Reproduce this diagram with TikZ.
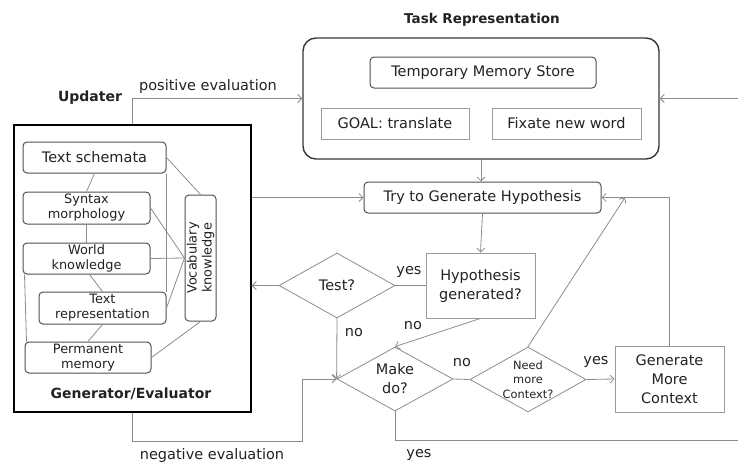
\documentclass[tikz,border=0pt]{standalone}
\usepackage{fontspec}
\setmainfont{DejaVu Sans}
\usetikzlibrary{shapes.geometric,arrows.meta}
\definecolor{txt}{HTML}{222222}
\definecolor{ln}{HTML}{8C8C8C}
\definecolor{bd}{HTML}{505050}
\definecolor{lbd}{HTML}{9A9A9A}
\tikzset{
  every node/.style={text=txt},
  big/.style={font=\fontsize{14.5}{19}\selectfont, align=center},
  small/.style={font=\fontsize{12.9}{15}\selectfont, align=center},
  tiny/.style={font=\fontsize{11.4}{14.5}\selectfont, align=center},
  bold/.style={font=\fontsize{14}{17}\bfseries\selectfont},
  rbox/.style={draw=bd, line width=1pt, rounded corners=4pt, inner sep=0pt},
  sbox/.style={draw=lbd, line width=0.8pt, inner sep=0pt},
  dia/.style={draw=ln, line width=0.8pt, diamond, inner sep=0pt},
  conn/.style={draw=ln, line width=0.8pt},
  arr/.style={conn, -{Straight Barb[length=4pt,width=8pt]}},
}
\begin{document}
\begin{tikzpicture}[x=1pt,y=-1pt]
\useasboundingbox (0,0) rectangle (738,464);
% Task representation
\node[bold, font=\fontsize{13.5}{16}\bfseries\selectfont] (trt) at (482,20) {Task Representation};
\node[draw=txt!90, line width=1.4pt, rounded corners=13pt, minimum width=356, minimum height=121, inner sep=0pt] (tr) at (481,98.5) {};
\node[rbox, big, minimum width=226, minimum height=31] (tms) at (483,72.5) {Temporary Memory Store};
\node[sbox, big, minimum width=148, minimum height=31] (goal) at (395,123.5) {GOAL: translate};
\node[sbox, big, minimum width=149, minimum height=31] (fix) at (566.5,123.5) {Fixate new word};
% flow
\node[rbox, big, minimum width=237, minimum height=31] (tgh) at (482.5,197.5) {Try to Generate Hypothesis};
\node[sbox, big, minimum width=109, minimum height=65] (hyp) at (480.5,285.5) {Hypothesis\\generated?};
\node[dia, minimum width=116, minimum height=65] (test) at (337,285.5) {};
\node[big] (testt) at (test) {Test?};
\node[dia, minimum width=116, minimum height=64] (make) at (395,379) {};
\node[big] (maket) at (make) {Make\\do?};
\node[dia, minimum width=116, minimum height=65] (need) at (528,379.5) {};
\node[tiny] (needt) at (need) {Need\\more\\Context?};
\node[sbox, big, minimum width=109, minimum height=66] (gmc) at (669.5,379) {Generate\\More\\Context};
% generator / evaluator
\node[draw=black, line width=1.4pt, minimum width=237, minimum height=287, inner sep=0pt] (gen) at (132.5,268.5) {};
\node[bold] (gent) at (131,394) {Generator/Evaluator};
\node[bold] (upd) at (90,98) {Updater};
\node[rbox, big, minimum width=143, minimum height=31] (ts) at (94.5,157.5) {Text schemata};
\node[rbox, small, minimum width=127, minimum height=32] (syn) at (86.5,208) {Syntax\\morphology};
\node[rbox, small, minimum width=127, minimum height=31] (wk) at (86.5,258.5) {World\\knowledge};
\node[rbox, small, minimum width=127, minimum height=32] (trep) at (102.5,308) {Text\\representation};
\node[rbox, small, minimum width=126, minimum height=31] (perm) at (88,357.5) {Permanent\\memory};
\node[rbox, small, minimum width=31, minimum height=126] (voc) at (200.5,258) {};
\node[small, rotate=90] (voct) at (voc) {Vocabulary\\knowledge};
% inner connections
\draw[conn] (ts.south) -- (syn.north);
\draw[conn] (syn.south) -- (wk.north);
\draw[conn] ([xshift=3]wk.south) -- (trep.north);
\draw[conn] (trep.south) -- (perm.north);
\draw[conn] ([xshift=2]wk.south west) -- ([xshift=2]perm.north west);
\draw[conn] (ts.south east) -- (trep.north east);
\draw[conn] (ts.east) -- (voc.north);
\draw[conn] (syn.east) -- (voc.west);
\draw[conn] (wk.east) -- (voc.west);
\draw[conn] (trep.east) -- (voc.west);
\draw[conn] (perm.east) -- (voc.south);
% coordinates
\coordinate (rin) at (738,98.5);
\coordinate (rout) at (738,440);
\coordinate (neg) at (302,441);
\coordinate (jn) at (625,197.5);
% connectors
\draw[arr] (gen.north) |- (tr.west);
\node[big] (pe) at (208,86) {positive evaluation};
\draw[arr] (rin) -- (tr.east);
\draw[arr] (tr.south) -- (tr.south |- tgh.north);
\draw[arr] (gen.east |- tgh.west) -- (tgh.west);
\draw[arr] (tgh.south) -- (hyp.north);
\draw[conn] (hyp.west) -- (test.east);
\node[big] (yes1) at (409,272) {yes};
\draw[arr] (test.west) -- (gen.east |- test.west);
\draw[arr] (test.south) -- (make.west);
\node[big] (no1) at (354,333) {no};
\draw[arr] (hyp.south) -- (make.north);
\node[big] (no2) at (413,326) {no};
\draw[conn] (make.east) -- (need.west);
\node[big] (no3) at (462,363) {no};
\draw[arr] (need.east) -- (gmc.west);
\node[big] (yes2) at (596,362) {yes};
\draw[arr] (gmc.north) |- (tgh.east);
\draw[arr] (need.north) -- (jn);
\draw[conn] (make.south) |- (rout);
\node[big] (yes3) at (419,455) {yes};
\draw[arr] (gen.south) |- (neg) |- (make.west);
\node[big] (ne) at (212,455) {negative evaluation};
\end{tikzpicture}
\end{document}
